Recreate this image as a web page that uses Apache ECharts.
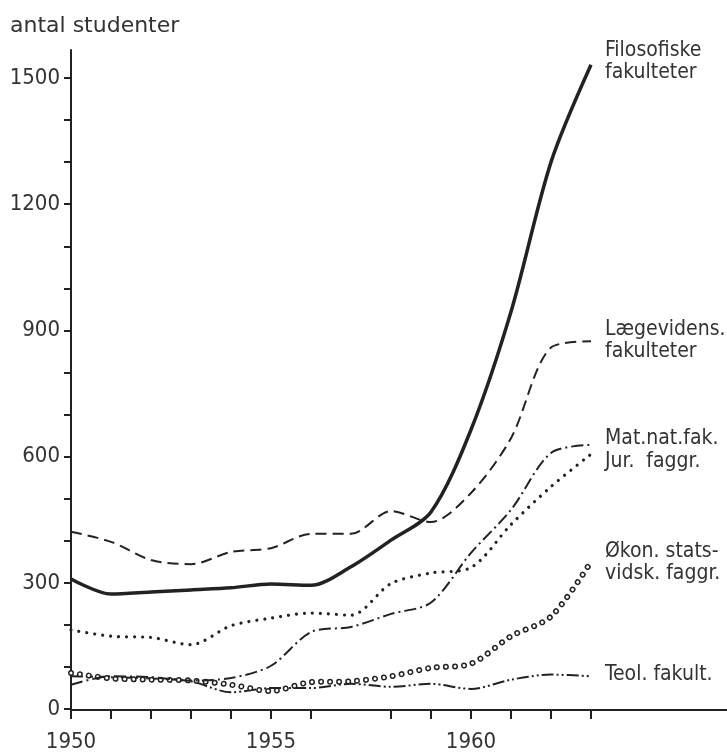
<!DOCTYPE html>
<html lang="da">
<head>
    <meta charset="utf-8">
    <title>antal studenter</title>
    <style>
        html, body { margin: 0; padding: 0; background: #fff; }
        #chart { width: 727px; height: 753px; }
    </style>
</head>
<body>
<div id="chart"></div>
<script src="https://cdn.jsdelivr.net/npm/echarts@6/dist/echarts.min.js"></script>
<script>
// aar og antal studenter pr. fakultet (aflaest fra figuren)
var years = [1950, 1951, 1952, 1953, 1954, 1955, 1956, 1957, 1958, 1959, 1960, 1961, 1962, 1963];
var filosofiske = [311, 275, 280, 285, 290, 299, 296, 340, 403, 470, 665, 945, 1300, 1531];
var laegevidens = [423, 399, 356, 346, 375, 384, 418, 418, 472, 446, 515, 645, 860, 875];
var matnat = [60, 80, 78, 70, 76, 105, 185, 197, 228, 255, 373, 475, 610, 629];
var jur = [190, 175, 172, 155, 200, 218, 230, 225, 300, 325, 338, 440, 530, 607];
var okon = [88, 75, 72, 70, 60, 45, 66, 68, 80, 100, 110, 175, 222, 352];
var teol = [80, 78, 75, 68, 42, 52, 52, 62, 55, 62, 50, 72, 84, 80];

var yLabels = [0, 300, 600, 900, 1200, 1500];
var xLabels = [1950, 1955, 1960];
var missingTick = 1957;

var ink = '#222';
var textColor = '#333';
var numFont = "'DejaVu Sans Condensed', 'DejaVu Sans', sans-serif";
var txtFont = "'DejaVu Sans', sans-serif";

function pairs(arr) {
    return years.map(function (y, i) { return [y, arr[i]]; });
}
function endLabel(text, dx, dy) {
    return {
        show: true,
        formatter: text,
        offset: [dx, dy],
        color: textColor,
        fontSize: 21,
        lineHeight: 22,
        fontFamily: numFont,
        align: 'left'
    };
}
function line(name, arr, style, label) {
    return {
        name: name,
        type: 'line',
        xAxisIndex: 0,
        yAxisIndex: 0,
        data: pairs(arr),
        smooth: 0.3,
        showSymbol: false,
        symbol: 'none',
        lineStyle: style,
        endLabel: label || { show: false },
        silent: true
    };
}

var chart = echarts.init(document.getElementById('chart'));
chart.setOption({
    animation: false,
    backgroundColor: '#fff',
    title: {
        text: 'antal studenter',
        left: 5,
        top: 10,
        textStyle: { color: textColor, fontSize: 22, fontWeight: 'normal', fontFamily: txtFont }
    },
    grid: [
        { left: 71, right: 0, top: 50, bottom: 43 },
        { left: 71, right: 136, top: 78, bottom: 43 }
    ],
    xAxis: [
        {
            type: 'value', gridIndex: 0, min: 1950, max: 1966.4,
            axisLine: { show: true, lineStyle: { color: ink, width: 2 } },
            axisTick: { show: false }, axisLabel: { show: false }, splitLine: { show: false }
        },
        {
            type: 'category', gridIndex: 1, boundaryGap: false,
            data: years.map(String),
            axisLine: { show: false },
            axisTick: {
                show: true, length: 10, lineStyle: { color: ink, width: 2 },
                interval: function (i, v) { return +v !== missingTick; }
            },
            axisLabel: {
                interval: function (i, v) { return xLabels.indexOf(+v) >= 0; },
                margin: 22, color: textColor, fontSize: 22, fontFamily: numFont
            },
            splitLine: { show: false }
        }
    ],
    yAxis: [
        {
            type: 'value', gridIndex: 0, min: 0, max: 1566,
            axisLine: { show: true, lineStyle: { color: ink, width: 2 } },
            axisTick: { show: false }, axisLabel: { show: false }, splitLine: { show: false }
        },
        {
            type: 'value', gridIndex: 1, min: 0, max: 1500, interval: 100,
            axisLine: { show: false },
            axisTick: { show: true, length: 7, lineStyle: { color: ink, width: 2 } },
            axisLabel: {
                margin: 11, color: textColor, fontSize: 22, fontFamily: numFont,
                formatter: function (v) { return yLabels.indexOf(v) >= 0 ? String(v) : ''; }
            },
            splitLine: { show: false }
        }
    ],
    series: [
        line('Teol. fakult.', teol,
            { color: ink, width: 2, type: [12, 3, 2, 3, 2, 3] },
            endLabel('Teol. fakult.', 6, -2)),
        line('Økon. statsvidsk. faggr.', okon,
            { color: ink, width: 6, type: [0.01, 9], cap: 'round' },
            endLabel('Økon. stats-\nvidsk. faggr.', 6, 1)),
        line('Økon. ring', okon,
            { color: '#fff', width: 3, type: [0.01, 9], cap: 'round' }),
        line('Jur. faggr.', jur,
            { color: ink, width: 3.2, type: [0.01, 8], cap: 'round' },
            endLabel('Jur.  faggr.', 6, 7)),
        line('Mat.nat.fak.', matnat,
            { color: ink, width: 2, type: [12, 4, 2, 4] },
            endLabel('Mat.nat.fak.', 6, -6)),
        line('Lægevidens. fakulteter', laegevidens,
            { color: ink, width: 2, type: [11, 6] },
            endLabel('Lægevidens.\nfakulteter', 6, -1)),
        line('Filosofiske fakulteter', filosofiske,
            { color: ink, width: 3.5, type: 'solid' },
            endLabel('Filosofiske\nfakulteter', 6, -3))
    ]
});
</script>
</body>
</html>
